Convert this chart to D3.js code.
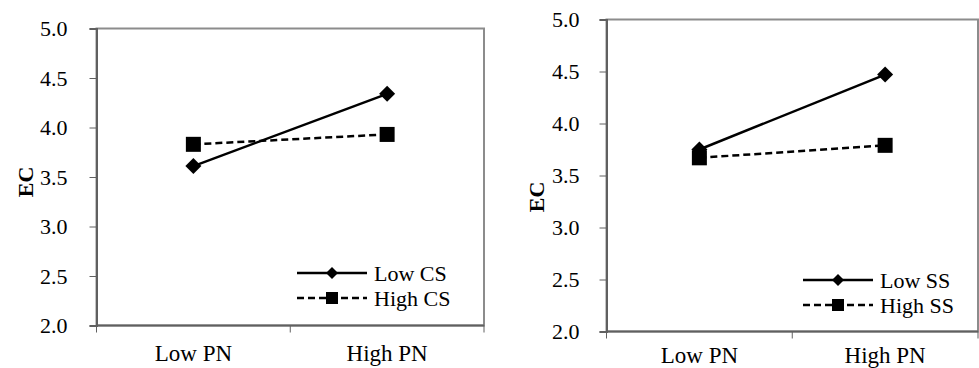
<!DOCTYPE html>
<html>
<head>
<meta charset="utf-8">
<title>EC interaction plots</title>
<script src="https://cdn.jsdelivr.net/npm/d3@7/dist/d3.min.js"></script>
<style>
body{ margin:0; background:#fff; }
</style>
</head>
<body>
<svg id="chart" width="979" height="368"></svg>
<script>

// data
var categories = ["Low PN", "High PN"];
var yTicks = [2.0, 2.5, 3.0, 3.5, 4.0, 4.5, 5.0];

var lowCS  = [3.61, 4.34];
var highCS = [3.83, 3.93];
var lowSS  = [3.75, 4.47];
var highSS = [3.67, 3.79];

var seriesNames1 = ["Low CS", "High CS"];
var seriesNames2 = ["Low SS", "High SS"];

var serif = "'Liberation Serif', 'Times New Roman', Times, serif";

// layout of each panel
var panels = [
	{ x0: 96.5, x1: 484, y0: 28.5, y1: 325.5, ecX: 25, ecY: 182, labY: 361, tickPad: 22,
	  legX: 297, legY: 273, names: seriesNames1, series: [lowCS, highCS] },
	{ x0: 606.5, x1: 978, y0: 19.5, y1: 331.5, ecX: 536, ecY: 197, labY: 363, tickPad: 20,
	  legX: 803, legY: 280, names: seriesNames2, series: [lowSS, highSS] }
];

var svg = d3.select("#chart")
	.attr("font-family", serif)
	.style("font-family", serif);

function diamond(g, cx, cy, r){
	g.append("path")
		.attr("d", "M" + cx + "," + (cy - r) + "L" + (cx + r) + "," + cy + "L" + cx + "," + (cy + r) + "L" + (cx - r) + "," + cy + "Z")
		.attr("fill", "#000");
}
function square(g, cx, cy, s){
	g.append("rect")
		.attr("x", cx - s/2).attr("y", cy - s/2)
		.attr("width", s).attr("height", s)
		.attr("fill", "#000");
}

panels.forEach(function(p){
	var g = svg.append("g");

	var x = d3.scaleBand().domain(categories).range([p.x0, p.x1]);
	var y = d3.scaleLinear().domain([2, 5]).range([p.y1, p.y0]);

	// frame
	g.append("rect")
		.attr("x", p.x0).attr("y", p.y0)
		.attr("width", p.x1 - p.x0).attr("height", p.y1 - p.y0)
		.attr("fill", "none")
		.attr("stroke", "#8c8c8c")
		.attr("stroke-width", 2);

	// y axis
	var yAxis = d3.axisLeft(y).tickValues(yTicks).tickSize(7).tickPadding(p.tickPad)
		.tickFormat(d3.format(".1f"));
	var ya = g.append("g")
		.attr("transform", "translate(" + p.x0 + ",0)")
		.call(yAxis)
		.attr("font-family", serif)
		.attr("font-size", 22);
	ya.select(".domain").attr("stroke", "#606060").attr("stroke-width", 2);
	ya.selectAll(".tick line").attr("stroke", "#606060").attr("stroke-width", 1);
	ya.selectAll("text")
		.style("font-family", serif)
		.style("font-size", "22px")
		.attr("fill", "#000");

	// x axis line and boundary ticks
	g.append("line")
		.attr("x1", p.x0).attr("x2", p.x1)
		.attr("y1", p.y1).attr("y2", p.y1)
		.attr("stroke", "#606060").attr("stroke-width", 2);
	var bounds = categories.map(function(c){ return x(c); }).concat([x.range()[1]]);
	g.selectAll(".xtick")
		.data(bounds)
		.enter().append("line")
		.attr("x1", function(d){ return d; }).attr("x2", function(d){ return d; })
		.attr("y1", p.y1).attr("y2", p.y1 + 7)
		.attr("stroke", "#606060").attr("stroke-width", 1);
	g.selectAll(".xlab")
		.data(categories)
		.enter().append("text")
		.attr("x", function(d){ return x(d) + x.bandwidth()/2; })
		.attr("y", p.labY)
		.attr("text-anchor", "middle")
		.style("font-family", serif)
		.style("font-size", "23px")
		.text(function(d){ return d; });

	// y title
	g.append("text")
		.attr("transform", "translate(" + p.ecX + "," + p.ecY + ") rotate(-90)")
		.attr("text-anchor", "middle")
		.attr("dy", "0.35em")
		.style("font-family", serif)
		.style("font-size", "22px")
		.style("font-weight", "bold")
		.text("EC");

	// lines
	var line = d3.line()
		.x(function(d, i){ return x(categories[i]) + x.bandwidth()/2; })
		.y(function(d){ return y(d); });

	p.series.forEach(function(s, k){
		g.append("path")
			.datum(s)
			.attr("d", line)
			.attr("fill", "none")
			.attr("stroke", "#000")
			.attr("stroke-width", 2.5)
			.attr("stroke-dasharray", k === 1 ? "7,4" : null);
		s.forEach(function(v, i){
			var cx = x(categories[i]) + x.bandwidth()/2;
			if(k === 0){ diamond(g, cx, y(v), 8); }
			else{ square(g, cx, y(v), 15); }
		});
	});

	// legend
	p.names.forEach(function(n, k){
		var ly = p.legY + k * 25;
		g.append("line")
			.attr("x1", p.legX).attr("x2", p.legX + 70)
			.attr("y1", ly).attr("y2", ly)
			.attr("stroke", "#000")
			.attr("stroke-width", 2.5)
			.attr("stroke-dasharray", k === 1 ? "7,4" : null);
		if(k === 0){ diamond(g, p.legX + 35, ly, 6); }
		else{ square(g, p.legX + 35, ly, 12); }
		g.append("text")
			.attr("x", p.legX + 77)
			.attr("y", ly)
			.attr("dy", "0.35em")
			.style("font-family", serif)
			.style("font-size", "22px")
			.text(n);
	});
});

</script>
</body>
</html>
